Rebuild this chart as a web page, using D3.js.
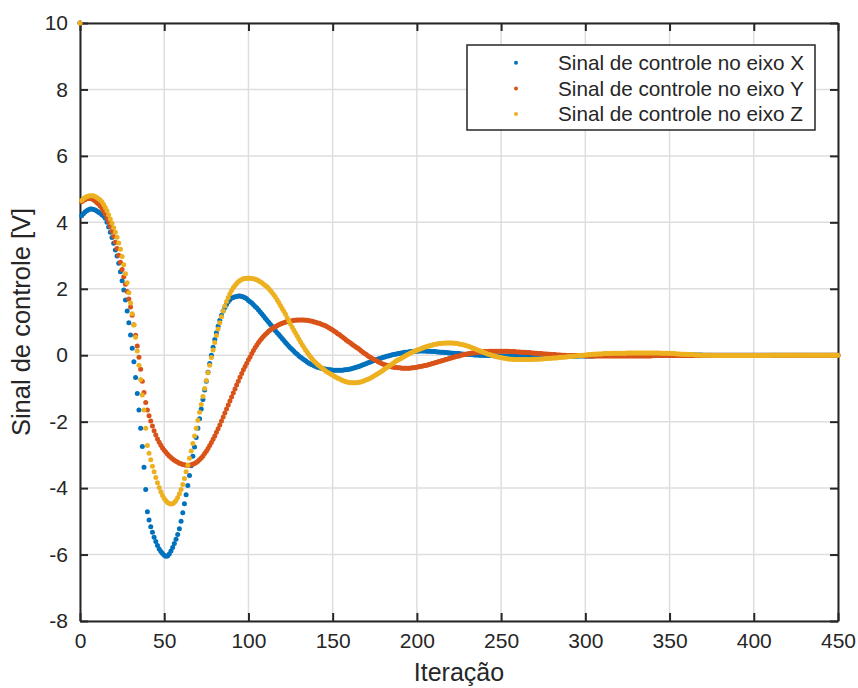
<!DOCTYPE html>
<html><head><meta charset="utf-8">
<script src="https://cdn.jsdelivr.net/npm/d3@7"></script>
<style>body{margin:0;background:#fff}svg{display:block}text{font-family:"Liberation Sans",Arial,Helvetica,sans-serif;fill:#262626}</style>
</head><body><svg id="c" width="858" height="688"></svg>
<script>
// ---- data (index = iteration 0..450) ----
const xTicks = [0,50,100,150,200,250,300,350,400,450];
const yTicks = [-8,-6,-4,-2,0,2,4,6,8,10];
const seriesNames = ["Sinal de controle no eixo X","Sinal de controle no eixo Y","Sinal de controle no eixo Z"];
const seriesColors = ["#0072BD","#D95319","#EDB120"];
const xAxisLabel = "Iteração";
const yAxisLabel = "Sinal de controle [V]";

const xSignal = [
10,4.20,4.26,4.31,4.35,4.38,4.40,4.40,4.39,4.37,
4.34,4.30,4.27,4.23,4.19,4.12,4.00,3.86,3.70,3.54,
3.37,3.17,2.99,2.77,2.51,2.24,1.96,1.66,1.33,0.98,
0.61,0.21,-0.20,-0.67,-1.15,-1.65,-2.20,-2.75,-3.37,-4.04,
-4.71,-4.96,-5.16,-5.33,-5.48,-5.61,-5.73,-5.83,-5.91,-5.97,
-6.02,-6.05,-6.04,-5.98,-5.89,-5.79,-5.67,-5.54,-5.40,-5.22,
-5.00,-4.74,-4.47,-4.20,-3.92,-3.62,-3.33,-3.04,-2.76,-2.48,
-2.20,-1.91,-1.62,-1.33,-1.05,-0.78,-0.51,-0.25,0.00,0.24,
0.47,0.68,0.87,1.05,1.20,1.33,1.44,1.53,1.61,1.67,
1.72,1.74,1.76,1.77,1.78,1.78,1.77,1.75,1.73,1.70,
1.65,1.61,1.57,1.52,1.47,1.42,1.36,1.30,1.24,1.18,
1.11,1.05,0.99,0.93,0.87,0.80,0.74,0.68,0.62,0.56,
0.50,0.44,0.38,0.33,0.27,0.22,0.17,0.12,0.07,0.03,
-0.02,-0.06,-0.10,-0.14,-0.17,-0.21,-0.24,-0.27,-0.29,-0.32,
-0.34,-0.36,-0.37,-0.39,-0.40,-0.41,-0.42,-0.43,-0.44,-0.44,
-0.45,-0.45,-0.45,-0.45,-0.45,-0.45,-0.45,-0.44,-0.44,-0.43,
-0.42,-0.41,-0.39,-0.38,-0.36,-0.35,-0.33,-0.31,-0.29,-0.27,
-0.25,-0.23,-0.21,-0.19,-0.17,-0.15,-0.13,-0.11,-0.10,-0.08,
-0.06,-0.05,-0.03,-0.02,-0.01,0.01,0.02,0.03,0.04,0.05,
0.06,0.07,0.08,0.09,0.09,0.10,0.11,0.11,0.12,0.12,
0.12,0.13,0.13,0.13,0.13,0.13,0.12,0.12,0.12,0.11,
0.11,0.11,0.10,0.10,0.09,0.09,0.09,0.08,0.08,0.07,
0.07,0.06,0.06,0.05,0.05,0.05,0.04,0.04,0.03,0.03,
0.03,0.02,0.02,0.02,0.01,0.01,0.01,0.00,0.00,0.00,
-0.01,-0.01,-0.01,-0.01,-0.01,-0.01,-0.02,-0.02,-0.02,-0.02,
-0.02,-0.02,-0.02,-0.02,-0.02,-0.02,-0.03,-0.03,-0.03,-0.03,
-0.03,-0.03,-0.03,-0.04,-0.04,-0.04,-0.04,-0.04,-0.04,-0.04,
-0.04,-0.04,-0.04,-0.04,-0.04,-0.04,-0.04,-0.04,-0.04,-0.04,
-0.04,-0.04,-0.04,-0.04,-0.04,-0.04,-0.03,-0.03,-0.03,-0.03,
-0.03,-0.03,-0.03,-0.03,-0.03,-0.03,-0.02,-0.02,-0.02,-0.02,
-0.02,-0.02,-0.02,-0.02,-0.02,-0.02,-0.01,-0.01,-0.01,-0.01,
-0.01,-0.01,-0.01,-0.01,-0.01,-0.01,-0.01,-0.01,-0.01,-0.01,
-0.01,0,0,0,0,0,0,0,0,0,
0,0,0,0,0,0,0,0,0,0,
0,0,0,0,0,0,0.01,0.01,0.01,0.01,
0.01,0.01,0.01,0.01,0.01,0.01,0.01,0.01,0.01,0.01,
0.01,0.01,0.01,0.01,0.01,0.01,0.01,0.01,0.01,0.01,
0,0,0,0,0,0,0,0,0,0,
0,0,0,0,0,0,0,0,0,0,
0,0,0,0,0,0,0,0,0,0,
0,0,0,0,0,0,0,0,0,0,
0,0,0,0,0,0,0,0,0,0,
0,0,0,0,0,0,0,0,0,0,
0,0,0,0,0,0,0,0,0,0,
0,0,0,0,0,0,0,0,0,0,
0];

const ySignal = [
10,4.62,4.66,4.69,4.71,4.72,4.72,4.71,4.68,4.64,
4.60,4.55,4.49,4.42,4.34,4.25,4.14,4.02,3.88,3.73,
3.57,3.40,3.21,3.01,2.80,2.58,2.36,2.14,1.92,1.69,
1.45,1.20,0.92,0.60,0.28,-0.06,-0.42,-0.78,-1.12,-1.42,
-1.65,-1.82,-1.98,-2.13,-2.27,-2.40,-2.52,-2.62,-2.71,-2.79,
-2.86,-2.92,-2.98,-3.03,-3.08,-3.12,-3.16,-3.19,-3.22,-3.25,
-3.27,-3.29,-3.30,-3.31,-3.31,-3.31,-3.30,-3.28,-3.26,-3.23,
-3.19,-3.14,-3.09,-3.03,-2.96,-2.89,-2.81,-2.72,-2.63,-2.53,
-2.43,-2.32,-2.21,-2.10,-1.98,-1.86,-1.74,-1.62,-1.50,-1.38,
-1.26,-1.14,-1.02,-0.90,-0.78,-0.66,-0.55,-0.44,-0.34,-0.24,
-0.14,-0.05,0.05,0.14,0.23,0.31,0.38,0.45,0.51,0.57,
0.62,0.67,0.72,0.76,0.80,0.83,0.86,0.89,0.92,0.94,
0.96,0.98,1.00,1.01,1.02,1.03,1.04,1.05,1.05,1.06,
1.06,1.06,1.06,1.06,1.05,1.05,1.04,1.03,1.02,1.00,
0.99,0.97,0.96,0.94,0.92,0.90,0.88,0.85,0.82,0.79,
0.76,0.72,0.69,0.65,0.62,0.58,0.54,0.50,0.46,0.42,
0.39,0.35,0.31,0.28,0.24,0.21,0.17,0.13,0.09,0.05,
0.02,-0.02,-0.05,-0.08,-0.11,-0.14,-0.17,-0.20,-0.22,-0.25,
-0.27,-0.29,-0.30,-0.32,-0.33,-0.35,-0.36,-0.37,-0.37,-0.38,
-0.38,-0.39,-0.39,-0.39,-0.39,-0.39,-0.39,-0.38,-0.38,-0.37,
-0.36,-0.35,-0.34,-0.33,-0.32,-0.31,-0.30,-0.28,-0.27,-0.25,
-0.24,-0.22,-0.21,-0.19,-0.18,-0.16,-0.15,-0.13,-0.12,-0.10,
-0.09,-0.07,-0.06,-0.04,-0.03,-0.02,0.00,0.01,0.02,0.03,
0.04,0.05,0.06,0.07,0.07,0.08,0.09,0.09,0.10,0.10,
0.11,0.11,0.11,0.12,0.12,0.12,0.12,0.12,0.12,0.12,
0.12,0.12,0.12,0.12,0.12,0.11,0.11,0.11,0.11,0.10,
0.10,0.10,0.09,0.09,0.09,0.08,0.08,0.08,0.07,0.07,
0.06,0.06,0.05,0.05,0.05,0.04,0.04,0.04,0.03,0.03,
0.02,0.02,0.02,0.01,0.01,0.01,0.00,0.00,0.00,-0.01,
-0.01,-0.01,-0.01,-0.01,-0.01,-0.01,-0.01,-0.01,-0.01,-0.01,
-0.02,-0.02,-0.02,-0.02,-0.02,-0.02,-0.02,-0.02,-0.02,-0.02,
-0.02,-0.02,-0.02,-0.02,-0.02,-0.02,-0.02,-0.02,-0.02,-0.02,
-0.02,-0.02,-0.02,-0.02,-0.02,-0.02,-0.02,-0.02,-0.02,-0.02,
-0.02,-0.02,-0.02,-0.02,-0.02,-0.02,-0.02,-0.02,-0.02,-0.02,
-0.01,-0.01,-0.01,-0.01,-0.01,-0.01,-0.01,-0.01,-0.01,-0.01,
-0.01,-0.01,-0.01,-0.01,-0.01,-0.01,-0.01,-0.01,-0.01,-0.01,
-0.01,-0.01,-0.01,-0.01,-0.01,-0.01,-0.01,-0.01,-0.01,-0.01,
0,0,0,0,0,0,0,0,0,0,
0,0,0,0,0,0,0,0,0,0,
0,0,0,0,0,0,0,0,0,0,
0,0,0,0,0,0,0,0,0,0,
0,0,0,0,0,0,0,0,0,0,
0,0,0,0,0,0,0,0,0,0,
0,0,0,0,0,0,0,0,0,0,
0,0,0,0,0,0,0,0,0,0,
0];

const zSignal = [
10,4.66,4.71,4.75,4.77,4.79,4.80,4.80,4.80,4.78,
4.75,4.71,4.67,4.62,4.54,4.45,4.35,4.23,4.10,3.97,
3.84,3.70,3.55,3.38,3.19,2.97,2.72,2.45,2.18,1.88,
1.57,1.25,0.91,0.54,0.13,-0.30,-0.73,-1.20,-1.65,-2.20,
-2.72,-2.95,-3.15,-3.34,-3.51,-3.68,-3.84,-3.98,-4.11,-4.22,
-4.31,-4.38,-4.43,-4.46,-4.48,-4.47,-4.43,-4.37,-4.28,-4.17,
-4.04,-3.89,-3.71,-3.51,-3.31,-3.10,-2.88,-2.66,-2.43,-2.20,
-1.96,-1.72,-1.48,-1.24,-1.00,-0.76,-0.53,-0.30,-0.07,0.16,
0.38,0.59,0.79,0.98,1.16,1.33,1.48,1.62,1.74,1.85,
1.95,2.03,2.10,2.16,2.21,2.25,2.28,2.30,2.31,2.32,
2.32,2.32,2.31,2.30,2.29,2.27,2.24,2.21,2.18,2.14,
2.10,2.06,2.01,1.95,1.89,1.82,1.75,1.67,1.59,1.50,
1.41,1.32,1.23,1.13,1.03,0.94,0.84,0.75,0.66,0.57,
0.48,0.39,0.31,0.23,0.15,0.08,0.01,-0.06,-0.12,-0.18,
-0.23,-0.28,-0.32,-0.36,-0.40,-0.44,-0.48,-0.51,-0.54,-0.57,
-0.60,-0.63,-0.66,-0.69,-0.71,-0.74,-0.76,-0.78,-0.80,-0.81,
-0.82,-0.83,-0.83,-0.83,-0.83,-0.82,-0.81,-0.80,-0.78,-0.76,
-0.74,-0.72,-0.70,-0.67,-0.64,-0.61,-0.58,-0.55,-0.52,-0.48,
-0.45,-0.41,-0.38,-0.34,-0.31,-0.27,-0.24,-0.20,-0.17,-0.14,
-0.11,-0.08,-0.05,-0.02,0.01,0.03,0.06,0.08,0.11,0.13,
0.15,0.17,0.19,0.21,0.23,0.25,0.26,0.28,0.29,0.30,
0.32,0.33,0.34,0.35,0.35,0.36,0.36,0.37,0.37,0.37,
0.37,0.37,0.36,0.36,0.35,0.34,0.33,0.32,0.31,0.29,
0.28,0.26,0.24,0.22,0.20,0.18,0.16,0.14,0.12,0.10,
0.08,0.06,0.04,0.02,0.01,-0.01,-0.02,-0.04,-0.05,-0.06,
-0.07,-0.08,-0.09,-0.10,-0.11,-0.11,-0.12,-0.12,-0.13,-0.13,
-0.13,-0.13,-0.13,-0.13,-0.13,-0.13,-0.13,-0.13,-0.13,-0.12,
-0.12,-0.12,-0.12,-0.11,-0.11,-0.11,-0.10,-0.10,-0.10,-0.09,
-0.09,-0.08,-0.08,-0.08,-0.07,-0.07,-0.06,-0.06,-0.05,-0.05,
-0.04,-0.04,-0.03,-0.03,-0.02,-0.02,-0.01,-0.01,0.00,0.00,
0.01,0.01,0.02,0.02,0.03,0.03,0.03,0.04,0.04,0.04,
0.04,0.05,0.05,0.05,0.05,0.05,0.06,0.06,0.06,0.06,
0.06,0.06,0.06,0.06,0.06,0.07,0.07,0.07,0.07,0.07,
0.07,0.07,0.07,0.07,0.07,0.07,0.07,0.07,0.07,0.07,
0.07,0.07,0.07,0.07,0.07,0.06,0.06,0.06,0.06,0.06,
0.06,0.05,0.05,0.05,0.04,0.04,0.04,0.03,0.03,0.03,
0.03,0.02,0.02,0.02,0.02,0.01,0.01,0.01,0.01,0.00,
0.00,0.00,0.00,0.00,0.00,-0.01,-0.01,-0.01,-0.01,-0.01,
-0.01,-0.01,-0.01,-0.01,-0.01,-0.01,-0.01,-0.01,-0.01,-0.01,
-0.01,-0.01,-0.01,-0.01,-0.01,-0.01,-0.01,-0.01,-0.01,-0.01,
-0.01,-0.01,-0.01,-0.01,-0.01,-0.01,-0.01,-0.01,-0.01,-0.01,
0,0,0,0,0,0,0,0,0,0,
0,0,0,0,0,0,0,0,0,0,
0,0,0,0,0,0,0,0,0,0,
0,0,0,0,0,0,0,0,0,0,
0];

const seriesValues = [xSignal, ySignal, zSignal];

// ---- drawing ----
const svg = d3.select("#c");
const L = 80, R = 838, T = 23, B = 621;
const x = d3.scaleLinear().domain([0, 450]).range([L, R]);
const y = d3.scaleLinear().domain([-8, 10]).range([B, T]);
const ink = "#262626";
const fmt = d => String(d);

// grid
const grid = svg.append("g");
grid.selectAll("line.v").data(xTicks).join("line")
  .attr("x1", d => x(d)).attr("x2", d => x(d)).attr("y1", T).attr("y2", B)
  .attr("stroke", "#dedede").attr("stroke-width", 1.5);
grid.selectAll("line.h").data(yTicks).join("line")
  .attr("x1", L).attr("x2", R).attr("y1", d => y(d)).attr("y2", d => y(d))
  .attr("stroke", "#dedede").attr("stroke-width", 1.5);

// axes
function styleAxis(g) {
  g.select(".domain").attr("stroke", ink).attr("stroke-width", 2);
  g.selectAll(".tick line").attr("stroke", ink).attr("stroke-width", 2);
  g.selectAll(".tick text").style("font-size", "21px").attr("fill", ink)
    .attr("font-family", "Liberation Sans, Arial, sans-serif");
}
svg.append("g").attr("transform", `translate(0,${B})`)
  .call(d3.axisBottom(x).tickValues(xTicks).tickFormat(fmt).tickSize(-8).tickSizeOuter(0).tickPadding(12))
  .call(styleAxis);
svg.append("g").attr("transform", `translate(0,${T})`)
  .call(d3.axisTop(x).tickValues(xTicks).tickSize(-8).tickSizeOuter(0).tickFormat(""))
  .call(styleAxis);
svg.append("g").attr("transform", `translate(${L},0)`)
  .call(d3.axisLeft(y).tickValues(yTicks).tickFormat(fmt).tickSize(-8).tickSizeOuter(0).tickPadding(12))
  .call(styleAxis);
svg.append("g").attr("transform", `translate(${R},0)`)
  .call(d3.axisRight(y).tickValues(yTicks).tickSize(-8).tickSizeOuter(0).tickFormat(""))
  .call(styleAxis);

// series dots
seriesValues.forEach((vals, k) => {
  svg.append("g").selectAll("circle").data(vals).join("circle")
    .attr("cx", (d, i) => x(i)).attr("cy", d => y(d)).attr("r", 2.5)
    .attr("fill", seriesColors[k]);
});

// labels
svg.append("text").attr("x", (L + R) / 2).attr("y", 681).attr("text-anchor", "middle")
  .style("font-size", "25px").text(xAxisLabel);
svg.append("text").attr("transform", `translate(30,${(T + B) / 2}) rotate(-90)`)
  .attr("text-anchor", "middle").style("font-size", "25.5px").text(yAxisLabel);

// legend
const lg = svg.append("g");
lg.append("rect").attr("x", 467).attr("y", 45).attr("width", 348).attr("height", 85)
  .attr("fill", "#fff").attr("stroke", ink).attr("stroke-width", 1.5);
seriesNames.forEach((name, k) => {
  const cy = 62.7 + 25.7 * k;
  lg.append("circle").attr("cx", 516).attr("cy", cy).attr("r", 2).attr("fill", seriesColors[k]);
  lg.append("text").attr("x", 558).attr("y", cy).attr("dy", "0.35em")
    .style("font-size", "20.7px").text(name);
});
</script></body></html>
